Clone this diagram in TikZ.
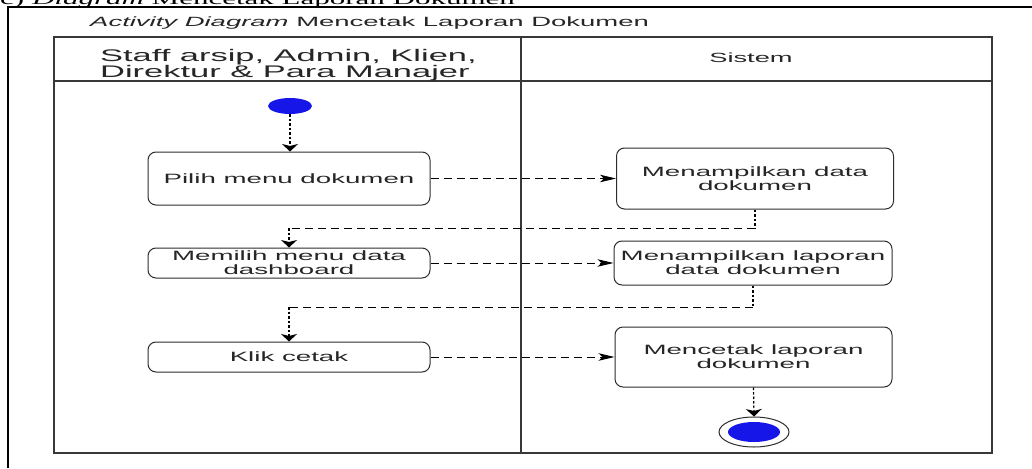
\documentclass[tikz,border=0pt]{standalone}
\usepackage{fontspec}
\setmainfont{Liberation Serif}
\newfontfamily\dfont[FakeStretch=2.05]{Liberation Sans}
\newfontfamily\hfont[FakeStretch=2.0]{Liberation Serif}
\usetikzlibrary{arrows.meta,shapes.geometric}
\definecolor{nodeblue}{RGB}{22,22,232}
\definecolor{lineg}{RGB}{45,45,45}
\begin{document}
\begin{tikzpicture}[x=1pt,y=-1pt,
  act/.style={draw=lineg, line width=1pt, rounded corners=8pt, align=center,
    inner sep=0pt, font=\dfont\fontsize{13.5}{14}\selectfont, text=black!85},
  hdash/.style={draw=black, line width=1pt, dash pattern=on 8pt off 5pt},
  vdot/.style={draw=black, line width=1.2pt, dash pattern=on 2.5pt off 2pt},
  harrow/.style={-{Stealth[length=16pt,width=7.5pt,inset=4pt]}},
  varrow/.style={-{Stealth[length=7.5pt,width=16pt,inset=2pt]}},
  poolline/.style={draw=black!78, line width=1.3pt}]
\useasboundingbox (0,0) rectangle (1032,468);
\fill[white] (0,0) rectangle (1032,468);
% page heading (clipped at the top, as in the reference)
\node[anchor=base west, inner sep=0pt, font=\hfont\fontsize{15.5}{16}\selectfont] (heading) at (0,4.5) {c) \textit{Diagram} Mencetak Laporan Dokumen};
% outer frame
\draw[line width=1.3pt, black] (8,468) -- (8,7) -- (1032,7);
% title
\node[anchor=base west, inner sep=0pt, font=\dfont\fontsize{13.4}{14}\selectfont, text=black!85] (title) at (90,27) {\textit{Activity Diagram} Mencetak Laporan Dokumen};
% swimlanes
\draw[poolline] (54,37) rectangle (992,453);
\draw[poolline] (54,81) -- (992,81);
\draw[poolline] (521,37) -- (521,453);
\node[anchor=base west, inner sep=0pt, align=left, font=\dfont\fontsize{16.8}{17}\selectfont, text=black!85] (lane1) at (100,78) {Staff arsip, Admin, Klien,\\Direktur \& Para Manajer};
\node[anchor=base, inner sep=0pt, font=\dfont\fontsize{13.3}{14}\selectfont, text=black!85] (lane2) at (751,63) {Sistem};
% initial node
\node[draw=none, fill=nodeblue, ellipse, minimum width=44pt, minimum height=16pt, inner sep=0pt] (init) at (290,106) {};
% actions
\node[act, minimum width=282pt, minimum height=53pt] (pilih) at (289,178.5) {Pilih menu dokumen};
\node[act, minimum width=282pt, minimum height=30pt] (memilih) at (289,263) {Memilih menu data\\dashboard};
\node[act, minimum width=282pt, minimum height=30pt] (klik) at (289,357) {Klik cetak};
\node[act, minimum width=277pt, minimum height=61pt] (mendata) at (755,178.5) {Menampilkan data\\dokumen};
\node[act, minimum width=278pt, minimum height=44pt] (menlap) at (753,263) {Menampilkan laporan\\data dokumen};
\node[act, minimum width=277pt, minimum height=60pt] (mencetak) at (753.5,357) {Mencetak laporan\\dokumen};
% final node
\node[draw=lineg, line width=1pt, fill=white, ellipse, minimum width=70pt, minimum height=30pt, inner sep=0pt] (final) at (754,432) {};
\node[fill=nodeblue, ellipse, minimum width=52pt, minimum height=20pt, inner sep=0pt] (finalin) at (final.center) {};
% connectors
\draw[vdot, varrow] (init.south) -- (init.south |- pilih.north);
\draw[hdash, harrow] (pilih.east) -- (mendata.west);
\draw[hdash, harrow] (memilih.east) -- (menlap.west);
\draw[hdash, harrow] (klik.east) -- (mencetak.west);
\coordinate (c1) at (0,228);
\coordinate (c2) at (0,307);
\draw[vdot] (mendata.south) -- (mendata.south |- c1);
\draw[hdash] (mendata.south |- c1) -- (memilih.north |- c1);
\draw[vdot, varrow] (memilih.north |- c1) -- (memilih.north);
\draw[vdot] (menlap.south) -- (menlap.south |- c2);
\draw[hdash] (menlap.south |- c2) -- (klik.north |- c2);
\draw[vdot, varrow] (klik.north |- c2) -- (klik.north);
\draw[vdot, varrow] (mencetak.south) -- (final.north);
\end{tikzpicture}
\end{document}
